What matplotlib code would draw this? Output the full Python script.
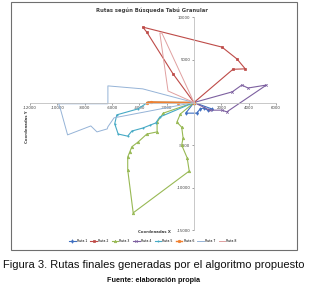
import matplotlib
matplotlib.use("Agg")
import matplotlib.pyplot as plt
from matplotlib.patches import Rectangle
from matplotlib.ticker import FuncFormatter, MultipleLocator

# ---- data (coordinates) ----
ruta1_x = [0, 1300, 1000, 700, 450, 200, -600, 0]
ruta1_y = [0, -750, -900, -650, -750, -1250, -1250, 0]

ruta2_x = [0, 2850, 3750, 3150, 2050, -3750, -3450, -1550, 0]
ruta2_y = [0, 3900, 3950, 5100, 6500, 8850, 8250, 3400, 0]

ruta3_x = [0, -1000, -1250, -900, -800, -900, -500, -350, -4450, -4850, -4850,
           -4700, -4550, -4100, -3450, -2700, -2700, -2250, 0]
ruta3_y = [0, -1350, -2300, -2900, -4150, -5000, -6500, -8050, -12950, -7900, -6400,
           -5800, -5200, -4650, -3700, -3450, -2300, -1250, 0]

ruta4_x = [0, 2800, 3500, 3950, 5300, 2400, 2050, 1150, 0]
ruta4_y = [0, 1250, 2050, 1700, 2050, -1100, -900, -900, 0]

ruta5_x = [0, -3350, -4100, -5650, -5800, -5550, -4850, -4550, -3750, -3200, -2800, -2500, 0]
ruta5_y = [0, 50, -750, -1450, -2500, -3700, -3950, -3350, -3000, -2650, -2400, -1700, 0]

ruta6_x = [0, -1150, -3150, -3450, 0]
ruta6_y = [0, 0, 50, 0, 0]

ruta7_x = [0, -3750, -6300, -6300, -9900, -9750, -9250, -7550, -7100, -6350, -6300, -5850, 0]
ruta7_y = [0, 1600, 1950, -150, -150, -900, -3800, -2750, -3450, -3100, -2850, -1800, 0]

ruta8_x = [0, -1900, -2500, -2350, 0]
ruta8_y = [0, 1350, 8150, 8150, 0]

names = ["Ruta 1", "Ruta 2", "Ruta 3", "Ruta 4", "Ruta 5", "Ruta 6", "Ruta 7", "Ruta 8"]
xs = [ruta1_x, ruta2_x, ruta3_x, ruta4_x, ruta5_x, ruta6_x, ruta7_x, ruta8_x]
ys = [ruta1_y, ruta2_y, ruta3_y, ruta4_y, ruta5_y, ruta6_y, ruta7_y, ruta8_y]

colors = ["#3F6FC0", "#BE4B48", "#98B954", "#7D60A0", "#46AAC5", "#F08030", "#95B3D7", "#E0A0A0"]
markers = ["d", "s", "^", "x", ".", "o", None, None]
lws = [0.8, 0.8, 0.8, 0.8, 0.8, 1.0, 0.7, 0.7]

W, H = 319, 292
fig = plt.figure(figsize=(W / 100, H / 100), dpi=100)

# chart border
fig.patches.append(Rectangle((11 / W, 1 - 250 / H), 286 / W, 248 / H,
                             transform=fig.transFigure, fill=False,
                             edgecolor="#6f6f6f", linewidth=0.8))

ax = fig.add_axes([30 / W, 1 - 230.3 / H, 246 / W, 213 / H])
for xv, yv, c, m, lw, n in zip(xs, ys, colors, markers, lws, names):
    ax.plot(xv, yv, color=c, marker=m, markersize=1.8, linewidth=lw, label=n,
            markeredgewidth=0.5)

ax.set_xlim(-12000, 6000)
ax.set_ylim(-15000, 10000)
ax.set_facecolor("none")
for s in ["top", "right"]:
    ax.spines[s].set_visible(False)
ax.spines["left"].set_position(("data", 0))
ax.spines["bottom"].set_position(("data", 0))
for s in ["left", "bottom"]:
    ax.spines[s].set_color("#bfbfbf")
    ax.spines[s].set_linewidth(0.6)
ax.xaxis.set_major_locator(MultipleLocator(2000))
ax.yaxis.set_major_locator(MultipleLocator(5000))
fmt = FuncFormatter(lambda v, p: "" if abs(v) < 1e-9 else f"{v:.0f}")
ax.xaxis.set_major_formatter(fmt)
ax.yaxis.set_major_formatter(fmt)
ax.tick_params(axis="both", labelsize=2.8, colors="#595959", length=1.5, width=0.4, pad=1)
for lab in ax.get_xticklabels() + ax.get_yticklabels():
    lab.set_color("#404040")

fig.text(152 / W, 1 - 10 / H, "Rutas según Búsqueda Tabú Granular",
         ha="center", va="center", fontsize=3.8, fontweight="bold", color="#404040")
fig.text(27 / W, 1 - 127 / H, "Coordenadas Y", rotation=90, ha="center", va="center",
         fontsize=2.8, fontweight="bold", color="#404040")
fig.text(154 / W, 1 - 232 / H, "Coordenadas X", ha="center", va="center",
         fontsize=2.8, fontweight="bold", color="#404040")

fig.legend(loc="center", bbox_to_anchor=(153 / W, 1 - 241 / H), ncol=8, fontsize=2.3,
           frameon=False, handlelength=2.0, columnspacing=1.0, handletextpad=0.4,
           borderpad=0)

fig.text(153.5 / W, 1 - 265 / H, "Figura 3. Rutas finales generadas por el algoritmo propuesto",
         ha="center", va="center", fontsize=8.0, family=["Liberation Sans", "DejaVu Sans"],
         color="#111111")
fig.text(153.5 / W, 1 - 281 / H, "Fuente: elaboración propia",
         ha="center", va="center", fontsize=5.2, fontweight="bold",
         family=["Liberation Sans", "DejaVu Sans"], color="#111111")

fig.savefig("out.png", dpi=100)
